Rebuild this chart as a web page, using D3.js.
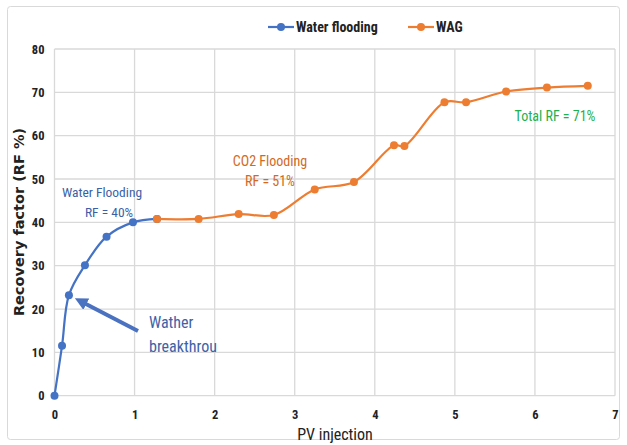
<!DOCTYPE html>
<html><head><meta charset="utf-8">
<script src="https://cdn.jsdelivr.net/npm/d3@7"></script>
<style>body{margin:0;background:#fff}</style>
</head><body>
<svg id="c" width="627" height="445"></svg>
<script>
const waterPV = [0, 0.094, 0.18, 0.38, 0.65, 0.98, 1.28];
const waterRF = [0, 11.5, 23.2, 30.1, 36.7, 40.0, 40.8];
const wagPV = [1.28, 1.80, 2.30, 2.74, 3.25, 3.74, 4.24, 4.37, 4.87, 5.14, 5.64, 6.15, 6.66];
const wagRF = [40.8, 40.8, 41.9, 41.7, 47.6, 49.3, 57.8, 57.6, 67.7, 67.7, 70.2, 71.1, 71.5];
const xTicks = [0,1,2,3,4,5,6,7];
const yTicks = [0,10,20,30,40,50,60,70,80];
const seriesNames = ["Water flooding", "WAG"];

const font = "'Liberation Sans Narrow','Arial Narrow','Roboto Condensed',sans-serif";
const svg = d3.select("#c");
const blue = "#4472C4", orange = "#ED7D31";

svg.append("rect").attr("x",7.5).attr("y",6.5).attr("width",612).attr("height",433)
  .attr("rx",3).attr("fill","#fff").attr("stroke","#d9d9d9");

const x = d3.scaleLinear().domain([0,7]).range([54.5,615]);
const y = d3.scaleLinear().domain([0,80]).range([395.7,49]);

const g = svg.append("g");
g.selectAll(".vg").data(xTicks).join("line")
  .attr("x1",d=>x(d)).attr("x2",d=>x(d)).attr("y1",y(0)).attr("y2",y(80))
  .attr("stroke","#d9d9d9").attr("stroke-width",1.3);
g.selectAll(".hg").data(yTicks).join("line")
  .attr("x1",x(0)).attr("x2",x(7)).attr("y1",d=>y(d)).attr("y2",d=>y(d))
  .attr("stroke","#d9d9d9").attr("stroke-width",1.3);

const xAxis = d3.axisBottom(x).tickValues(xTicks).tickFormat(d3.format("d")).tickSize(0).tickPadding(14);
const xa = svg.append("g").attr("transform",`translate(0,${y(0)})`).call(xAxis);
xa.select(".domain").remove();
xa.selectAll("text").attr("font-family",font).attr("font-size",12.5).attr("font-weight","bold").attr("fill","#222");
const yAxis = d3.axisLeft(y).tickValues(yTicks).tickFormat(d3.format("d")).tickSize(0).tickPadding(10);
const ya = svg.append("g").attr("transform",`translate(${x(0)},0)`).call(yAxis);
ya.select(".domain").remove();
ya.selectAll("text").attr("font-family",font).attr("font-size",12.5).attr("font-weight","bold").attr("fill","#222");

svg.append("text").attr("x",335).attr("y",440).attr("text-anchor","middle")
  .attr("font-family",font).attr("font-size",16).attr("fill","#222").text("PV injection");
svg.append("text").attr("transform","translate(24,222) rotate(-90)").attr("text-anchor","middle")
  .attr("font-family","'DejaVu Sans',sans-serif").attr("font-weight","bold").attr("font-size",14.5).attr("fill","#222")
  .text("Recovery factor (RF %)");

const line = d3.line().x(d=>x(d[0])).y(d=>y(d[1])).curve(d3.curveCatmullRom.alpha(0.5));
const water = waterPV.map((v,i)=>[v,waterRF[i]]);
const wag = wagPV.map((v,i)=>[v,wagRF[i]]);

function drawSeries(data,color){
  svg.append("path").datum(data).attr("d",line).attr("fill","none").attr("stroke",color).attr("stroke-width",2.2);
  svg.append("g").selectAll("circle").data(data).join("circle")
    .attr("cx",d=>x(d[0])).attr("cy",d=>y(d[1])).attr("r",4).attr("fill",color);
}
drawSeries(water,blue);
drawSeries(wag,orange);

const leg = [{name:seriesNames[0],c:blue,x:268},{name:seriesNames[1],c:orange,x:408}];
leg.forEach(l=>{
  svg.append("line").attr("x1",l.x).attr("x2",l.x+26).attr("y1",27).attr("y2",27).attr("stroke",l.c).attr("stroke-width",2.2);
  svg.append("circle").attr("cx",l.x+13).attr("cy",27).attr("r",4).attr("fill",l.c);
  svg.append("text").attr("x",l.x+28).attr("y",32).attr("font-family",font).attr("font-size",14).attr("font-weight","bold").attr("fill","#222").text(l.name);
});

function ann(txt,cx,cy,color,size){
  svg.append("text").attr("x",cx).attr("y",cy).attr("text-anchor","middle")
    .attr("font-family",font).attr("font-size",size).attr("fill",color).text(txt);
}
ann("Water Flooding",102,197,"#3a5fa8",13.5);
ann("RF = 40%",109,217,"#3a5fa8",13.5);
ann("CO2 Flooding",270,166,"#d4691e",14);
ann("RF = 51%",270,186,"#d4691e",14);
ann("Total RF = 71%",555,121,"#22b04f",14);
svg.append("text").attr("x",149).attr("y",328).attr("font-family",font).attr("font-size",16).attr("fill","#3d62a8").text("Wather");
svg.append("text").attr("x",149).attr("y",352).attr("font-family",font).attr("font-size",16).attr("fill","#3d62a8").text("breakthrou");

svg.append("defs").append("marker").attr("id","ah").attr("viewBox","0 0 10 10").attr("refX",2).attr("refY",5)
  .attr("markerWidth",3.2).attr("markerHeight",3.2).attr("orient","auto")
  .append("path").attr("d","M0,0L10,5L0,10z").attr("fill","#4a72c0");
svg.append("line").attr("x1",138).attr("y1",331).attr("x2",84).attr("y2",303)
  .attr("stroke","#4a72c0").attr("stroke-width",4).attr("marker-end","url(#ah)");
</script>
</body></html>
